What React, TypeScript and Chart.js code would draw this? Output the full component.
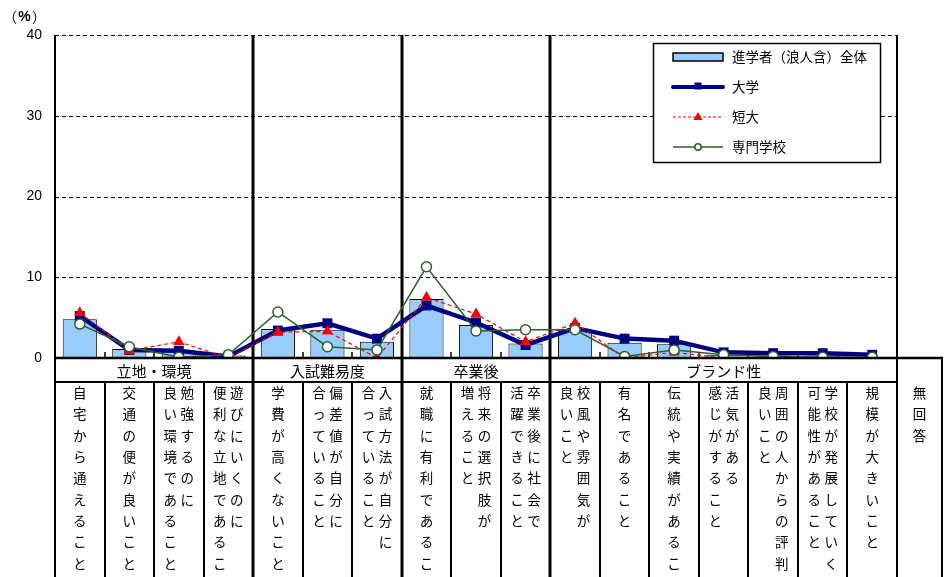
import React, { useEffect, useRef } from 'react';
import { Chart, registerables } from 'chart.js';
Chart.register(...registerables);

// ---- data ----
// each cell: columns in vertical writing order (right column first)
const cellText: string[][] = [
  ['自宅から通えること'],
  ['交通の便が良いこと'],
  ['勉強するのに', '良い環境であること'],
  ['遊びにいくのに', '便利な立地であること'],
  ['学費が高くないこと'],
  ['偏差値が自分に', '合っていること'],
  ['入試方法が自分に', '合っていること'],
  ['就職に有利であること'],
  ['将来の選択肢が', '増えること'],
  ['卒業後に社会で', '活躍できること'],
  ['校風や雰囲気が', '良いこと'],
  ['有名であること'],
  ['伝統や実績があること'],
  ['活気がある', '感じがすること'],
  ['周囲の人からの評判が', '良いこと'],
  ['学校が発展していく', '可能性があること'],
  ['規模が大きいこと'],
];
const categories = cellText.map((c) => c.join(''));
const groupNames = ['立地・環境', '入試難易度', '卒業後', 'ブランド性'];
const groupSizes = [4, 3, 3, 7];
const noAnswerLabel = '無回答';
const seriesNames = ['進学者（浪人含）全体', '大学', '短大', '専門学校'];
const yTicks = [0, 10, 20, 30, 40];
const unitLabel = ['（', '%', '）'];

const totalAll = [4.8, 1.1, 0.8, 0.3, 3.6, 3.5, 2.0, 7.3, 4.1, 1.8, 3.5, 1.9, 1.7, 0.4, 0.3, 0.3, 0.1];
const univ = [5.2, 1.0, 0.9, 0.2, 3.4, 4.3, 2.4, 6.5, 4.4, 1.6, 3.7, 2.4, 2.15, 0.7, 0.6, 0.6, 0.4];
const junior = [5.6, 0.9, 2.0, 0.0, 3.2, 3.3, 0.0, 7.5, 5.45, 2.0, 4.3, 0.0, 0.7, 0.0, 0.0, 0.0, 0.0];
const senmon = [4.2, 1.4, 0.1, 0.4, 5.7, 1.4, 1.0, 11.3, 3.35, 3.5, 3.5, 0.2, 1.0, 0.4, 0.2, 0.1, 0.1];

const BAR_COLOR = '#99CCFF';
const NAVY = '#000080';
const RED = '#FF0000';
const GREEN = '#2D5F2D';
const JP = '"Noto Sans CJK JP", "Noto Sans", sans-serif';

function groupBounds(): number[] {
  const b: number[] = [];
  let acc = 0;
  for (let i = 0; i < groupSizes.length - 1; i++) {
    acc += groupSizes[i];
    b.push(acc);
  }
  return b;
}

function line(ctx: CanvasRenderingContext2D, x1: number, y1: number, x2: number, y2: number) {
  ctx.beginPath();
  ctx.moveTo(x1, y1);
  ctx.lineTo(x2, y2);
  ctx.stroke();
}

const deco = {
  id: 'deco',
  beforeDatasetsDraw(chart: any) {
    const { ctx, chartArea: ca, scales } = chart;
    const y = scales.y;
    const n = categories.length;
    const w = (ca.right - ca.left) / n;
    const gb = groupBounds();
    ctx.save();
    ctx.strokeStyle = '#000';
    ctx.lineWidth = 1;
    ctx.setLineDash([4, 3]);
    for (const v of yTicks) {
      if (v === 0) continue;
      const py = Math.round(y.getPixelForValue(v)) + 0.5;
      line(ctx, ca.left, py, ca.right, py);
    }
    ctx.setLineDash([]);
    ctx.lineWidth = 1.5;
    for (let k = 1; k < n; k++) {
      if (gb.includes(k)) continue;
      const px = Math.round(ca.left + k * w);
      line(ctx, px, ca.bottom, px, ca.bottom - 6);
    }
    ctx.lineWidth = 3;
    for (const k of gb) {
      const px = Math.round(ca.left + k * w);
      line(ctx, px, ca.top, px, ca.bottom);
    }
    ctx.restore();
  },
  afterDraw(chart: any) {
    const { ctx, chartArea: ca, width: W, height: H } = chart;
    const n = categories.length;
    const w = (ca.right - ca.left) / n;
    const gb = groupBounds();
    const headerBottom = ca.bottom + 24;
    const naRight = W - 4;
    ctx.save();
    ctx.strokeStyle = '#000';
    // borders
    ctx.lineWidth = 2;
    line(ctx, ca.left, ca.top, ca.left, H);
    line(ctx, ca.right, ca.top, ca.right, H);
    line(ctx, naRight, ca.bottom, naRight, H);
    line(ctx, ca.left, headerBottom, ca.right, headerBottom);
    ctx.lineWidth = 2.5;
    line(ctx, ca.left - 1, ca.bottom, naRight + 1, ca.bottom);
    // group lines in table
    ctx.lineWidth = 3;
    for (const k of gb) {
      const px = Math.round(ca.left + k * w);
      line(ctx, px, ca.bottom, px, H);
    }
    // cell lines
    ctx.lineWidth = 2;
    for (let k = 1; k < n; k++) {
      if (gb.includes(k)) continue;
      const px = Math.round(ca.left + k * w);
      line(ctx, px, headerBottom, px, H);
    }
    // group headers
    ctx.fillStyle = '#000';
    ctx.textAlign = 'center';
    ctx.textBaseline = 'middle';
    ctx.font = `15px ${JP}`;
    let acc = 0;
    groupSizes.forEach((s, gi) => {
      const cx = ca.left + (acc + s / 2) * w;
      ctx.fillText(groupNames[gi], cx, ca.bottom + 13);
      acc += s;
    });
    // cell vertical text
    ctx.font = `13.5px ${JP}`;
    const rowStart = ca.bottom + 35;
    const rowStep = 21.3;
    cellText.forEach((cols, i) => {
      const cx = ca.left + (i + 0.5) * w;
      const xs = cols.length === 1 ? [cx] : [cx + 8.5, cx - 8.5];
      cols.forEach((col, ci) => {
        Array.from(col).forEach((ch, r) => {
          ctx.fillText(ch, xs[ci], rowStart + r * rowStep);
        });
      });
    });
    // no answer
    const nax = (ca.right + naRight) / 2;
    Array.from(noAnswerLabel).forEach((ch, r) => {
      ctx.fillText(ch, nax, rowStart + r * rowStep);
    });
    // unit label
    ctx.font = `14px ${JP}`;
    ctx.fillText(unitLabel[0], 10, 17);
    ctx.fillText(unitLabel[2], 39, 17);
    ctx.font = `bold 14px "Liberation Sans", Arial, sans-serif`;
    ctx.fillText(unitLabel[1], 24.5, 17);

    // legend
    const lx = 653, ly = 43, lw = 227, lh = 119;
    ctx.fillStyle = '#fff';
    ctx.fillRect(lx, ly, lw, lh);
    ctx.lineWidth = 1.5;
    ctx.strokeStyle = '#000';
    ctx.strokeRect(lx + 0.5, ly + 0.5, lw, lh);
    const rows = [57, 87, 117, 147];
    const sx0 = 673, sx1 = 723, sm = 698;
    // bar swatch
    ctx.fillStyle = BAR_COLOR;
    ctx.fillRect(sx0, rows[0] - 4, sx1 - sx0, 8);
    ctx.strokeStyle = '#000';
    ctx.lineWidth = 1.5;
    ctx.strokeRect(sx0, rows[0] - 4, sx1 - sx0, 8);
    // navy
    ctx.strokeStyle = NAVY;
    ctx.lineWidth = 4;
    ctx.lineCap = 'round';
    line(ctx, sx0, rows[1], sx1, rows[1]);
    ctx.lineCap = 'butt';
    ctx.fillStyle = NAVY;
    ctx.fillRect(sm - 3.5, rows[1] - 4.5, 7, 7);
    // red
    ctx.strokeStyle = RED;
    ctx.lineWidth = 1;
    ctx.setLineDash([3, 2]);
    line(ctx, sx0, rows[2], sx1, rows[2]);
    ctx.setLineDash([]);
    ctx.fillStyle = RED;
    ctx.beginPath();
    ctx.moveTo(sm, rows[2] - 5);
    ctx.lineTo(sm + 4.5, rows[2] + 3);
    ctx.lineTo(sm - 4.5, rows[2] + 3);
    ctx.closePath();
    ctx.fill();
    // green
    ctx.strokeStyle = GREEN;
    ctx.lineWidth = 1.5;
    line(ctx, sx0, rows[3], sx1, rows[3]);
    ctx.fillStyle = '#fff';
    ctx.beginPath();
    ctx.arc(sm, rows[3], 3.2, 0, Math.PI * 2);
    ctx.fill();
    ctx.stroke();
    // legend text
    ctx.fillStyle = '#000';
    ctx.font = `13.5px ${JP}`;
    ctx.textAlign = 'left';
    ctx.textBaseline = 'middle';
    seriesNames.forEach((s, i) => ctx.fillText(s, 732, rows[i]));
    ctx.restore();
  },
};

export default function App() {
  const ref = useRef<HTMLCanvasElement>(null);
  useEffect(() => {
    const chart = new Chart(ref.current!, {
      type: 'bar',
      data: {
        labels: categories,
        datasets: [
          {
            type: 'bar',
            label: seriesNames[0],
            data: totalAll,
            backgroundColor: BAR_COLOR,
            borderColor: '#000',
            borderWidth: 1,
            barPercentage: 0.69,
            categoryPercentage: 1.0,
            order: 4,
          } as any,
          {
            type: 'line',
            label: seriesNames[1],
            data: univ,
            borderColor: NAVY,
            borderWidth: 4.5,
            pointStyle: 'rect',
            pointRadius: 7,
            pointBackgroundColor: NAVY,
            pointBorderColor: NAVY,
            pointBorderWidth: 0,
            fill: false,
            tension: 0,
            order: 3,
          },
          {
            type: 'line',
            label: seriesNames[2],
            data: junior,
            borderColor: RED,
            borderWidth: 1.2,
            borderDash: [4, 3],
            pointStyle: 'triangle',
            pointRadius: 6.5,
            pointBackgroundColor: RED,
            pointBorderColor: RED,
            pointBorderWidth: 0,
            fill: false,
            tension: 0,
            order: 2,
          },
          {
            type: 'line',
            label: seriesNames[3],
            data: senmon,
            borderColor: GREEN,
            borderWidth: 1.5,
            pointStyle: 'circle',
            pointRadius: 5,
            pointBackgroundColor: '#fff',
            pointBorderColor: GREEN,
            pointBorderWidth: 1.5,
            fill: false,
            tension: 0,
            order: 1,
          },
        ],
      },
      options: {
        responsive: false,
        animation: false,
        events: [],
        layout: { padding: { top: 35, right: 49, bottom: 219, left: 0 } },
        plugins: { legend: { display: false }, tooltip: { enabled: false }, title: { display: false } },
        scales: {
          x: { display: false, offset: true },
          y: {
            min: 0,
            max: 40,
            ticks: {
              stepSize: 10,
              color: '#000',
              padding: 13,
              font: { family: '"Liberation Sans", Arial, sans-serif', size: 14 },
            },
            grid: { display: false, drawTicks: false },
            border: { display: false },
            afterFit(s: any) {
              s.width = 55;
            },
          },
        },
      },
      plugins: [deco],
    });
    return () => chart.destroy();
  }, []);
  return (
    <div style={{ position: 'absolute', left: 0, top: 0, width: 946, height: 577, background: '#fff' }}>
      <canvas ref={ref} width={946} height={577} style={{ display: 'block' }} />
    </div>
  );
}
